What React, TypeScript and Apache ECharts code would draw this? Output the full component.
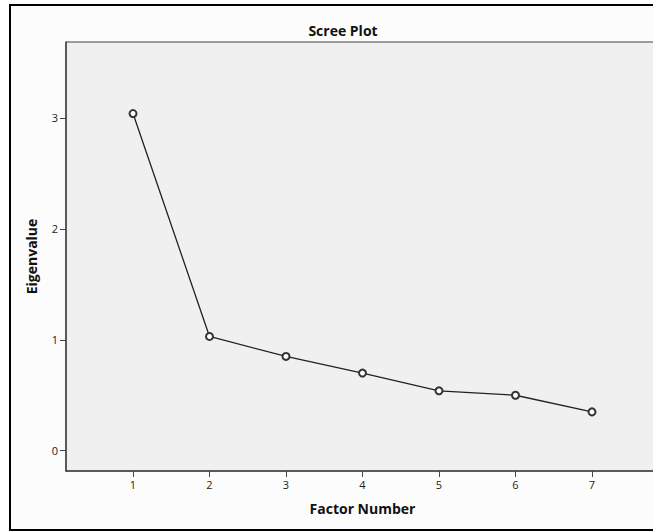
import React, { useEffect, useRef } from "react";
import * as echarts from "echarts";

const factorNumbers = [1, 2, 3, 4, 5, 6, 7];
const eigenvalues = [3.04, 1.03, 0.85, 0.7, 0.54, 0.5, 0.35];
const yTicks = [0, 1, 2, 3];
const chartTitle = "Scree Plot";
const xTitle = "Factor Number";
const yTitle = "Eigenvalue";

const FONT = "'Open Sans', 'DejaVu Sans', sans-serif";

export default function App() {
  const ref = useRef<HTMLDivElement>(null);
  useEffect(() => {
    if (!ref.current) return;
    const chart = echarts.init(ref.current, undefined, { renderer: "svg" });
    chart.setOption({
      animation: false,
      backgroundColor: "#ffffff",
      graphic: [
        {
          type: "rect",
          z: -10,
          silent: true,
          shape: { x: 10, y: 5, width: 660, height: 525 },
          style: { fill: "#fcfcfc", stroke: "#000000", lineWidth: 2 },
        },
      ],
      title: {
        text: chartTitle,
        left: 338,
        top: 18,
        textAlign: "center",
        textStyle: { fontFamily: FONT, fontSize: 14, fontWeight: "bold", color: "#111" },
      },
      grid: {
        left: 66,
        top: 42,
        right: 21,
        bottom: 61,
        show: true,
        backgroundColor: "#f0f0f0",
        borderColor: "#444",
        borderWidth: 1,
      },
      xAxis: {
        type: "value",
        min: 1 - 0.876,
        max: 7 + 0.876,
        name: xTitle,
        nameLocation: "middle",
        nameGap: 30,
        nameTextStyle: { fontFamily: FONT, fontSize: 14, fontWeight: "bold", color: "#111" },
        axisLine: { show: true, onZero: false, lineStyle: { color: "#444", width: 1.5 } },
        axisTick: { show: true, length: 6, customValues: factorNumbers, lineStyle: { color: "#444" } },
        axisLabel: {
          customValues: factorNumbers,
          margin: 8,
          fontFamily: FONT,
          fontSize: 11,
          color: "#222",
        },
        splitLine: { show: false },
      },
      yAxis: {
        type: "value",
        min: -0.183,
        max: 3.685,
        name: yTitle,
        nameLocation: "middle",
        nameGap: 28,
        nameTextStyle: { fontFamily: FONT, fontSize: 14, fontWeight: "bold", color: "#111" },
        axisLine: { show: true, onZero: false, lineStyle: { color: "#444", width: 1.5 } },
        axisTick: { show: true, length: 6, customValues: yTicks, lineStyle: { color: "#444" } },
        axisLabel: {
          customValues: yTicks,
          margin: 8,
          fontFamily: FONT,
          fontSize: 11,
          color: "#222",
        },
        splitLine: { show: false },
      },
      series: [
        {
          type: "line",
          data: factorNumbers.map((f, i) => [f, eigenvalues[i]]),
          symbol: "emptyCircle",
          symbolSize: 7,
          lineStyle: { color: "#222", width: 1.3 },
          itemStyle: { color: "#333", borderWidth: 1.1 },
        },
      ],
    });
    return () => chart.dispose();
  }, []);
  return (
    <div style={{ position: "fixed", left: 0, top: 0, width: 653, height: 532, overflow: "hidden" }}>
      <div ref={ref} style={{ width: 680, height: 532 }} />
    </div>
  );
}
